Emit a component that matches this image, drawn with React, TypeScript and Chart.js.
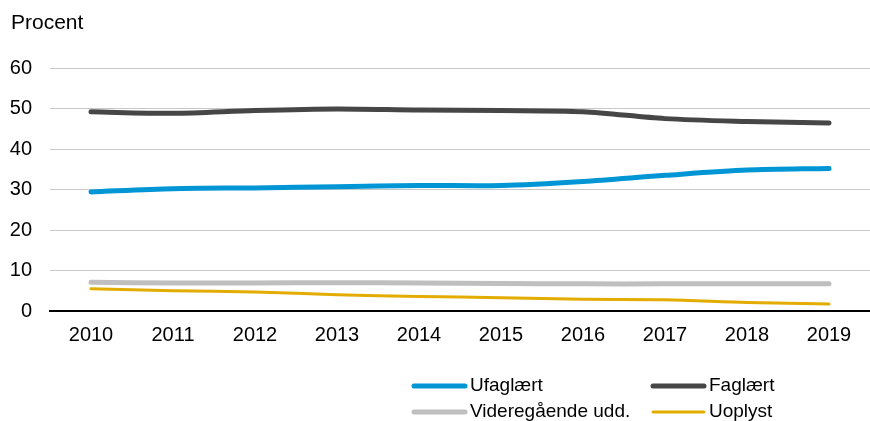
import React, { useEffect, useRef } from "react";
import { Chart, registerables } from "chart.js";

Chart.register(...registerables);

const years = ["2010", "2011", "2012", "2013", "2014", "2015", "2016", "2017", "2018", "2019"];
const ufaglaert = [29.4, 30.2, 30.4, 30.7, 31.0, 31.0, 32.0, 33.5, 34.8, 35.2];
const faglaert = [49.2, 48.8, 49.5, 49.9, 49.6, 49.5, 49.2, 47.5, 46.8, 46.4];
const videregaaende = [7.1, 6.9, 6.9, 7.0, 6.9, 6.8, 6.7, 6.7, 6.7, 6.7];
const uoplyst = [5.5, 5.0, 4.7, 4.0, 3.6, 3.3, 2.9, 2.8, 2.1, 1.7];
const yTicks = [0, 10, 20, 30, 40, 50, 60];
const yAxisTitle = "Procent";

const FONT = "'Liberation Sans', Arial, sans-serif";

const legendPlugin = {
  id: "gridLegend",
  afterDraw(chart: any) {
    const ctx = chart.ctx;
    const ds = chart.data.datasets;
    const cols = [412, 651];
    const rows = [386, 412];
    ctx.save();
    ctx.font = `19px ${FONT}`;
    ctx.textBaseline = "middle";
    ctx.textAlign = "left";
    ds.forEach((d: any, i: number) => {
      const x = cols[i % 2];
      const y = rows[Math.floor(i / 2)];
      ctx.beginPath();
      ctx.strokeStyle = d.borderColor;
      ctx.lineWidth = d.borderWidth;
      ctx.lineCap = "round";
      ctx.moveTo(x + 2, y);
      ctx.lineTo(x + 53, y);
      ctx.stroke();
      ctx.fillStyle = "#000";
      ctx.fillText(d.label, x + 58, y);
    });
    // axis title
    ctx.font = `21px ${FONT}`;
    ctx.textBaseline = "alphabetic";
    ctx.fillText(yAxisTitle, 11, 29);
    ctx.restore();
  },
};

export default function App() {
  const ref = useRef<HTMLCanvasElement>(null);
  useEffect(() => {
    document.body.style.margin = "0";
    const canvas = ref.current!;
    const chart = new Chart(canvas, {
      type: "line",
      data: {
        labels: years,
        datasets: [
          { label: "Ufaglært", data: ufaglaert, borderColor: "#0096D6", borderWidth: 5 },
          { label: "Faglært", data: faglaert, borderColor: "#464646", borderWidth: 5 },
          { label: "Videregående udd.", data: videregaaende, borderColor: "#BFBFBF", borderWidth: 5 },
          { label: "Uoplyst", data: uoplyst, borderColor: "#E2AC00", borderWidth: 3 },
        ].map((d) => ({
          ...d,
          pointRadius: 0,
          pointHoverRadius: 0,
          tension: 0.3,
          borderCapStyle: "round" as const,
          borderJoinStyle: "round" as const,
          fill: false,
        })),
      },
      options: {
        responsive: false,
        animation: false,
        layout: { padding: { top: 68, left: 0, right: 0, bottom: 0 } },
        plugins: { legend: { display: false }, tooltip: { enabled: false }, title: { display: false } },
        scales: {
          x: {
            offset: true,
            grid: { display: false, drawTicks: false },
            border: { display: true, color: "#000", width: 2 },
            ticks: { color: "#000", font: { family: FONT, size: 20 }, padding: 12, maxRotation: 0 },
            afterFit(scale: any) {
              scale.height = 110;
            },
          },
          y: {
            min: 0,
            max: 60,
            afterBuildTicks(scale: any) {
              scale.ticks = yTicks.map((v) => ({ value: v }));
            },
            grid: { color: "#C8C8C8", lineWidth: 1, drawTicks: false },
            border: { display: false },
            ticks: { color: "#000", font: { family: FONT, size: 20 }, padding: 18 },
            afterFit(scale: any) {
              scale.width = 50;
            },
          },
        },
      },
      plugins: [legendPlugin],
    });
    return () => chart.destroy();
  }, []);
  return <canvas ref={ref} width={870} height={421} style={{ display: "block" }} />;
}
